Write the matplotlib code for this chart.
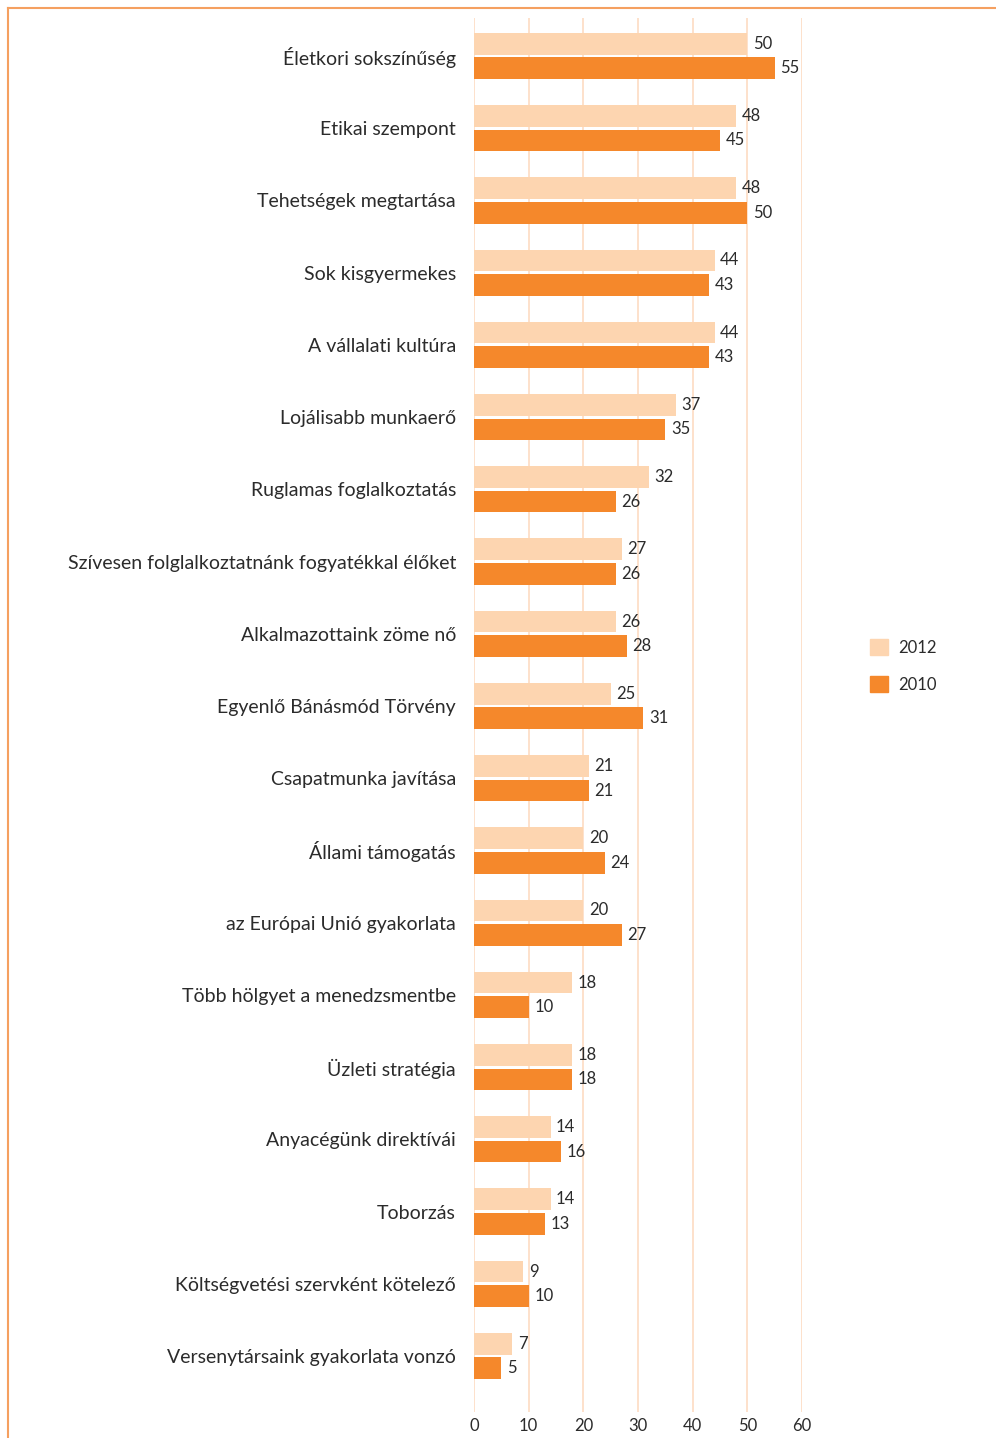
import matplotlib.pyplot as plt
from matplotlib.lines import Line2D
from matplotlib.patches import Patch
import numpy as np

categories = [
    "Életkori sokszínűség",
    "Etikai szempont",
    "Tehetségek megtartása",
    "Sok kisgyermekes",
    "A vállalati kultúra",
    "Lojálisabb munkaerő",
    "Ruglamas foglalkoztatás",
    "Szívesen folglalkoztatnánk fogyatékkal élőket",
    "Alkalmazottaink zöme nő",
    "Egyenlő Bánásmód Törvény",
    "Csapatmunka javítása",
    "Állami támogatás",
    "az Európai Unió gyakorlata",
    "Több hölgyet a menedzsmentbe",
    "Üzleti stratégia",
    "Anyacégünk direktívái",
    "Toborzás",
    "Költségvetési szervként kötelező",
    "Versenytársaink gyakorlata vonzó",
]
values_2012 = [50, 48, 48, 44, 44, 37, 32, 27, 26, 25, 21, 20, 20, 18, 18, 14, 14, 9, 7]
values_2010 = [55, 45, 50, 43, 43, 35, 26, 26, 28, 31, 21, 24, 27, 10, 18, 16, 13, 10, 5]
x_ticks = [0, 10, 20, 30, 40, 50, 60]

c2012 = "#FDD5B0"
c2010 = "#F5882B"
grid_c = "#FDDCC2"
text_c = "#2b2b2b"

plt.rcParams['font.family'] = ['Lato', 'DejaVu Sans']

fig = plt.figure(figsize=(9.96, 14.38), dpi=100)
ax = fig.add_axes([474 / 996, 1 - 1412 / 1438, 328 / 996, 1394 / 1438])

y = np.arange(len(categories))
h = 0.30
off = 0.17
ax.barh(y - off, values_2012, height=h, color=c2012, zorder=3)
ax.barh(y + off, values_2010, height=h, color=c2010, zorder=3)

for i in range(len(categories)):
    ax.text(values_2012[i] + 1.0, y[i] - off, str(values_2012[i]), va="center", ha="left",
            fontsize=12, color=text_c)
    ax.text(values_2010[i] + 1.0, y[i] + off, str(values_2010[i]), va="center", ha="left",
            fontsize=12, color=text_c)

ax.set_xlim(0, 60)
ax.set_ylim(18.775, -0.526)
ax.set_xticks(x_ticks)
ax.set_xticklabels([str(t) for t in x_ticks], fontsize=12, color=text_c)
ax.set_yticks(y)
ax.set_yticklabels(categories, fontsize=14, color=text_c)
ax.tick_params(axis="y", length=0, pad=13)
ax.tick_params(axis="x", length=0, pad=4)
for s in ax.spines.values():
    s.set_visible(False)
for t in x_ticks:
    ax.axvline(t, color=grid_c, lw=1.2, zorder=1)

# legend
handles = [Patch(color=c2012, label="2012"), Patch(color=c2010, label="2010")]
fig.legend(handles=handles, loc="center left", bbox_to_anchor=(855 / 996, 1 - 666 / 1438),
           frameon=False, fontsize=12, handlelength=1.1, handleheight=1.1,
           labelspacing=1.25, handletextpad=0.6, labelcolor=text_c)

# orange frame lines
fig.add_artist(Line2D([8 / 996, 8 / 996], [0, 1 - 8 / 1438], color="#F5a060", lw=1.5))
fig.add_artist(Line2D([8 / 996, 1], [1 - 8 / 1438, 1 - 8 / 1438], color="#F5a060", lw=1.5))

fig.savefig("out.png", dpi=100)
